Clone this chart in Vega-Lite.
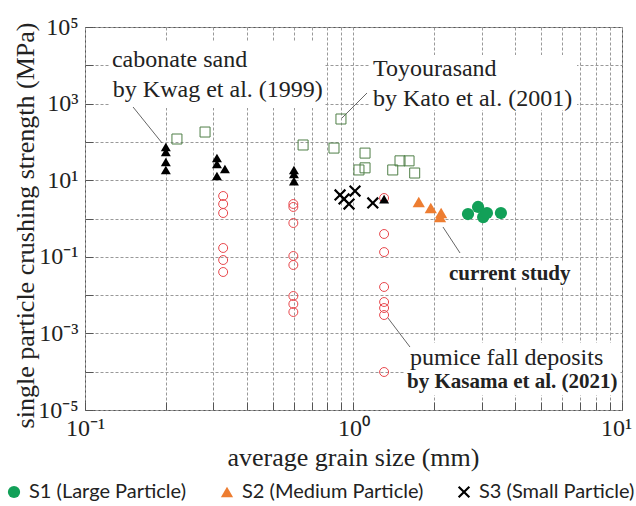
{
  "$schema": "https://vega.github.io/schema/vega-lite/v6.json",
  "width": 537,
  "height": 383,
  "autosize": {"type": "none"},
  "padding": {"left": 85, "top": 27, "right": 14, "bottom": 96},
  "background": "white",
  "config": {
    "view": {"stroke": "#555", "strokeWidth": 1},
    "font": "Liberation Serif",
    "legend": {"padding": 0}
  },
  "datasets": {
    "current": [
      {"sample": "S1 (Large Particle)", "x": 2.67, "y": 1.31},
      {"sample": "S1 (Large Particle)", "x": 2.91, "y": 2.0},
      {"sample": "S1 (Large Particle)", "x": 3.04, "y": 1.09},
      {"sample": "S1 (Large Particle)", "x": 3.14, "y": 1.39},
      {"sample": "S1 (Large Particle)", "x": 3.54, "y": 1.39},
      {"sample": "S2 (Medium Particle)", "x": 1.75, "y": 2.7},
      {"sample": "S2 (Medium Particle)", "x": 1.94, "y": 1.88},
      {"sample": "S2 (Medium Particle)", "x": 2.12, "y": 1.39},
      {"sample": "S2 (Medium Particle)", "x": 2.1, "y": 1.09},
      {"sample": "S3 (Small Particle)", "x": 0.891, "y": 4.11},
      {"sample": "S3 (Small Particle)", "x": 0.922, "y": 3.23},
      {"sample": "S3 (Small Particle)", "x": 0.962, "y": 2.39},
      {"sample": "S3 (Small Particle)", "x": 1.013, "y": 5.22},
      {"sample": "S3 (Small Particle)", "x": 1.18, "y": 2.54}
    ],
    "kwag": [
      {"x": 0.2, "y": 73.6}, {"x": 0.2, "y": 54.5}, {"x": 0.2, "y": 29.8}, {"x": 0.2, "y": 18.5},
      {"x": 0.31, "y": 38}, {"x": 0.31, "y": 26.5}, {"x": 0.332, "y": 19.6}, {"x": 0.31, "y": 12.9},
      {"x": 0.6, "y": 18.5}, {"x": 0.6, "y": 14.5}, {"x": 0.6, "y": 9.5},
      {"x": 1.3, "y": 3.2}
    ],
    "kato": [
      {"x": 0.22, "y": 119}, {"x": 0.28, "y": 181}, {"x": 0.649, "y": 83}, {"x": 0.898, "y": 396},
      {"x": 0.846, "y": 69}, {"x": 1.104, "y": 51}, {"x": 1.104, "y": 21}, {"x": 1.048, "y": 18.5},
      {"x": 1.49, "y": 32}, {"x": 1.61, "y": 32}, {"x": 1.4, "y": 18.5}, {"x": 1.69, "y": 15.4}
    ],
    "kasama": [
      {"x": 0.327, "y": 3.87}, {"x": 0.327, "y": 2.39}, {"x": 0.327, "y": 1.39},
      {"x": 0.327, "y": 0.17}, {"x": 0.327, "y": 0.0824}, {"x": 0.327, "y": 0.0401},
      {"x": 0.597, "y": 2.39}, {"x": 0.597, "y": 2.0}, {"x": 0.597, "y": 0.763},
      {"x": 0.597, "y": 0.105}, {"x": 0.597, "y": 0.0611}, {"x": 0.597, "y": 0.00948},
      {"x": 0.597, "y": 0.00586}, {"x": 0.597, "y": 0.00362},
      {"x": 1.3, "y": 3.43}, {"x": 1.3, "y": 0.394}, {"x": 1.3, "y": 0.133},
      {"x": 1.3, "y": 0.0163}, {"x": 1.3, "y": 0.0066}, {"x": 1.3, "y": 0.0046},
      {"x": 1.3, "y": 0.00302}, {"x": 1.3, "y": 0.0000982}
    ],
    "boxes": [
      {"x": 0.1239, "x2": 0.783, "y": 40550, "y2": 767},
      {"x": 1.152, "x2": 6.8, "y": 18570, "y2": 681},
      {"x": 2.19, "x2": 6.68, "y": 0.0731, "y2": 0.01626},
      {"x": 1.555, "x2": 9.83, "y": 0.000561, "y2": 0.0000247}
    ],
    "leaders": [
      {"x": 0.151, "y": 815, "x2": 0.1936, "y2": 93.6},
      {"x": 0.906, "y": 421, "x2": 1.123, "y2": 1892},
      {"x": 2.154, "y": 0.6, "x2": 2.493, "y2": 0.1256},
      {"x": 1.344, "y": 0.00252, "x2": 1.623, "y2": 0.000441}
    ],
    "labels": [
      {"text": "cabonate sand", "x": 0.126, "y": 9030},
      {"text": "by Kwag et al. (1999)", "x": 0.127, "y": 1486},
      {"text": "Toyourasand", "x": 1.182, "y": 5255},
      {"text": "by Kato et al. (2001)", "x": 1.182, "y": 865},
      {"text": "pumice fall deposits", "x": 1.623, "y": 0.0001496}
    ],
    "boldlabels": [
      {"text": "current study", "x": 2.268, "y": 0.0248},
      {"text": "by Kasama et al. (2021)", "x": 1.582, "y": 0.0000375}
    ]
  },
  "encoding": {
    "x": {
      "field": "x",
      "type": "quantitative",
      "scale": {"type": "log", "domain": [0.1, 10], "nice": false},
      "axis": {
        "title": "average grain size (mm)",
        "values": [0.1, 0.2, 0.3, 0.4, 0.5, 0.6, 0.7, 0.8, 0.9, 1, 2, 3, 4, 5, 6, 7, 8, 9, 10],
        "labelExpr": "datum.value < 0.15 ? '10⁻¹' : (abs(datum.value - 1) < 0.01 ? '10⁰' : (datum.value > 9.5 ? '10¹' : ''))",
        "labelFont": "Liberation Serif",
        "labelFontSize": 24,
        "labelColor": "#222",
        "labelFlush": false,
        "labelOverlap": false,
        "labelBound": false,
        "labelOffset": {"condition": {"test": "datum.value > 9.5", "value": -6}, "value": 0},
        "labelPadding": 14,
        "tickSize": -8,
        "tickColor": "#555",
        "domain": false,
        "grid": true,
        "gridColor": "#999",
        "gridDash": [3, 2],
        "titleFont": "Liberation Serif",
        "titleFontSize": 26,
        "titleFontWeight": "normal",
        "titleColor": "#222",
        "titleX": 268,
        "titleY": 55,
        "titleAlign": "center",
        "titleBaseline": "alphabetic"
      }
    },
    "y": {
      "field": "y",
      "type": "quantitative",
      "scale": {"type": "log", "domain": [0.00001, 100000], "nice": false},
      "axis": {
        "title": "single particle crushing strength (MPa)",
        "values": [0.00001, 0.0001, 0.001, 0.01, 0.1, 1, 10, 100, 1000, 10000, 100000],
        "labelExpr": "round(log(datum.value)/LN10) == 5 ? '10⁵' : (round(log(datum.value)/LN10) == 3 ? '10³' : (round(log(datum.value)/LN10) == 1 ? '10¹' : (round(log(datum.value)/LN10) == -1 ? '10⁻¹' : (round(log(datum.value)/LN10) == -3 ? '10⁻³' : (round(log(datum.value)/LN10) == -5 ? '10⁻⁵' : '')))))",
        "labelFont": "Liberation Serif",
        "labelFontSize": 24,
        "labelColor": "#222",
        "labelFlush": false,
        "labelOverlap": false,
        "labelBound": false,
        "labelPadding": 15,
        "tickSize": -8,
        "tickColor": "#555",
        "domain": false,
        "grid": true,
        "gridColor": "#999",
        "gridDash": [3, 2],
        "titleFont": "Liberation Serif",
        "titleFontSize": 26,
        "titleFontWeight": "normal",
        "titleColor": "#222",
        "titleAngle": 270,
        "titleX": -60,
        "titleY": 198,
        "titleAlign": "center",
        "titleBaseline": "middle"
      }
    }
  },
  "layer": [
    {
      "data": {"name": "boxes"},
      "mark": {"type": "rect", "fill": "white"},
      "encoding": {"x2": {"field": "x2"}, "y2": {"field": "y2"}}
    },
    {
      "data": {"name": "leaders"},
      "mark": {"type": "rule", "color": "#666", "strokeWidth": 1},
      "encoding": {"x2": {"field": "x2"}, "y2": {"field": "y2"}}
    },
    {
      "data": {"name": "kasama"},
      "mark": {"type": "point", "shape": "circle", "filled": false, "stroke": "#e8464b", "strokeWidth": 1, "size": 80, "opacity": 1}
    },
    {
      "data": {"name": "kato"},
      "mark": {"type": "point", "shape": "square", "filled": false, "stroke": "#4f7f47", "strokeWidth": 1, "size": 100, "opacity": 1}
    },
    {
      "data": {"name": "kwag"},
      "mark": {"type": "point", "shape": "triangle-up", "filled": true, "fill": "#000", "size": 100, "opacity": 1}
    },
    {
      "data": {"name": "current"},
      "mark": {"type": "point", "filled": true, "opacity": 1, "size": 150},
      "encoding": {
        "color": {
          "field": "sample",
          "type": "nominal",
          "scale": {"domain": ["S1 (Large Particle)", "S2 (Medium Particle)", "S3 (Small Particle)"], "range": ["#12a058", "#ed7d31", "#000000"]},
          "legend": {
            "title": null,
            "orient": "none",
            "direction": "horizontal",
            "legendX": -81,
            "legendY": 455,
            "labelFont": "Lato",
            "labelFontSize": 20,
            "labelColor": "#222",
            "labelLimit": 400,
            "columnPadding": 30,
            "labelOffset": 5,
            "symbolSize": 150,
            "symbolOpacity": 1
          }
        },
        "shape": {
          "field": "sample",
          "type": "nominal",
          "scale": {"domain": ["S1 (Large Particle)", "S2 (Medium Particle)", "S3 (Small Particle)"], "range": ["circle", "triangle-up", "M-1,-0.75L-0.75,-1L0,-0.25L0.75,-1L1,-0.75L0.25,0L1,0.75L0.75,1L0,0.25L-0.75,1L-1,0.75L-0.25,0Z"]},
          "legend": {
            "title": null,
            "orient": "none",
            "direction": "horizontal",
            "legendX": -81,
            "legendY": 455,
            "labelFont": "Lato",
            "labelFontSize": 20,
            "labelColor": "#222",
            "labelLimit": 400,
            "columnPadding": 30,
            "labelOffset": 5,
            "symbolSize": 150,
            "symbolOpacity": 1
          }
        }
      }
    },
    {
      "data": {"name": "labels"},
      "mark": {"type": "text", "font": "Liberation Serif", "fontSize": 24, "color": "#222", "align": "left", "baseline": "alphabetic"},
      "encoding": {"text": {"field": "text"}}
    },
    {
      "data": {"name": "boldlabels"},
      "mark": {"type": "text", "font": "Liberation Serif", "fontSize": 21, "fontWeight": "bold", "color": "#222", "align": "left", "baseline": "alphabetic"},
      "encoding": {"text": {"field": "text"}}
    }
  ]
}
